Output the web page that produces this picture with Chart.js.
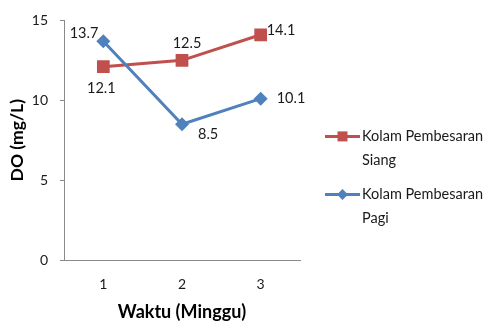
<!DOCTYPE html>
<html>
<head>
<meta charset="utf-8">
<script src="https://cdn.jsdelivr.net/npm/chart.js@4/dist/chart.umd.min.js"></script>
<style>
  html, body { margin: 0; padding: 0; background: #ffffff; }
  #wrap { width: 489px; height: 321px; }
</style>
</head>
<body>
<div id="wrap"><canvas id="chart" width="489" height="321"></canvas></div>
<script>
// Weekly dissolved oxygen readings for the two grow-out ponds
const weeks = ['1', '2', '3'];
const siangValues = [12.1, 12.5, 14.1];
const pagiValues = [13.7, 8.5, 10.1];
const seriesNames = [['Kolam Pembesaran', 'Siang'], ['Kolam Pembesaran', 'Pagi']];
const yTicks = [0, 5, 10, 15];

const RED = '#C0504D';
const BLUE = '#4F81BD';
const AXIS = '#8a8a8a';
const FONT = 'Lato, "Liberation Sans", sans-serif';

// Value labels beside each point (offset from the point, in px)
const valueLabels = {
  id: 'valueLabels',
  afterDatasetsDraw(chart, args, opts) {
    const ctx = chart.ctx;
    ctx.save();
    ctx.font = '14.5px ' + FONT;
    ctx.fillStyle = '#1a1a1a';
    ctx.textBaseline = 'middle';
    chart.data.datasets.forEach((ds, di) => {
      const meta = chart.getDatasetMeta(di);
      const place = opts.placement[di];
      meta.data.forEach((pt, i) => {
        const p = place[i];
        ctx.textAlign = p.align;
        ctx.fillText(String(ds.data[i].toFixed(1)), pt.x + p.dx, pt.y + p.dy);
      });
    });
    ctx.restore();
  }
};

// Legend on the right with wrapped series names
const sideLegend = {
  id: 'sideLegend',
  afterDraw(chart) {
    const ctx = chart.ctx;
    const area = chart.chartArea;
    const x0 = area.right + 25;
    const lineLen = 35;
    const rows = [area.top + 116, area.top + 174];
    ctx.save();
    chart.data.datasets.forEach((ds, di) => {
      const y = rows[di];
      ctx.strokeStyle = ds.borderColor;
      ctx.lineWidth = 3;
      ctx.beginPath();
      ctx.moveTo(x0, y);
      ctx.lineTo(x0 + lineLen, y);
      ctx.stroke();
      ctx.fillStyle = ds.backgroundColor;
      const cx = x0 + lineLen / 2;
      if (ds.pointStyle === 'rect') {
        ctx.fillRect(cx - 5, y - 5, 10, 10);
      } else {
        ctx.beginPath();
        ctx.moveTo(cx, y - 5.5);
        ctx.lineTo(cx + 5.5, y);
        ctx.lineTo(cx, y + 5.5);
        ctx.lineTo(cx - 5.5, y);
        ctx.closePath();
        ctx.fill();
      }
      ctx.font = '14.5px ' + FONT;
      ctx.fillStyle = '#1a1a1a';
      ctx.textAlign = 'left';
      ctx.textBaseline = 'middle';
      ds.labelLines.forEach((t, k) => {
        ctx.fillText(t, x0 + lineLen + 2, y + k * 24);
      });
    });
    ctx.restore();
  }
};

new Chart(document.getElementById('chart'), {
  type: 'line',
  data: {
    labels: weeks,
    datasets: [
      {
        label: seriesNames[0].join(' '),
        labelLines: seriesNames[0],
        data: siangValues,
        borderColor: RED,
        backgroundColor: RED,
        borderWidth: 3,
        pointStyle: 'rect',
        pointRadius: 9,
        pointBorderWidth: 0,
        tension: 0,
        order: 1
      },
      {
        label: seriesNames[1].join(' '),
        labelLines: seriesNames[1],
        data: pagiValues,
        borderColor: BLUE,
        backgroundColor: BLUE,
        borderWidth: 3,
        pointStyle: 'rectRot',
        pointRadius: 7,
        pointBorderWidth: 0,
        tension: 0,
        order: 0
      }
    ]
  },
  options: {
    responsive: false,
    animation: false,
    devicePixelRatio: 1,
    layout: { padding: { top: 17, right: 189, left: 0, bottom: 0 } },
    plugins: {
      legend: { display: false },
      tooltip: { enabled: false },
      valueLabels: {
        placement: [
          [ { align: 'center', dx: -2, dy: 22 }, { align: 'center', dx: 5, dy: -17 }, { align: 'left', dx: 6, dy: -4 } ],
          [ { align: 'right', dx: -5, dy: -8 }, { align: 'left', dx: 16, dy: 10 }, { align: 'left', dx: 16, dy: 0 } ]
        ]
      }
    },
    scales: {
      x: {
        type: 'category',
        offset: true,
        grid: { display: true, drawOnChartArea: false, drawTicks: false },
        border: { display: true, color: AXIS, width: 1 },
        ticks: { color: '#1a1a1a', font: { family: FONT, size: 14 }, padding: 16 },
        title: {
          display: true,
          text: 'Waktu (Minggu)',
          color: '#000000',
          font: { family: FONT, size: 18, weight: 'bold', lineHeight: 1.0 },
          padding: { top: 0, bottom: 0 }
        },
        afterFit(scale) { scale.height = 61; }
      },
      y: {
        min: 0,
        max: 15,
        afterBuildTicks(scale) { scale.ticks = yTicks.map(v => ({ value: v })); },
        grid: { display: true, drawOnChartArea: false, drawTicks: true, tickLength: 4, color: AXIS },
        border: { display: true, color: AXIS, width: 1 },
        ticks: { color: '#1a1a1a', font: { family: FONT, size: 14 }, padding: 12 },
        title: {
          display: true,
          text: 'DO (mg/L)',
          color: '#000000',
          font: { family: FONT, size: 17.5, weight: 'bold' },
          padding: { top: 6.5, bottom: 0 }
        },
        afterFit(scale) { scale.width = 64; }
      }
    }
  },
  plugins: [valueLabels, sideLegend]
});
</script>
</body>
</html>
